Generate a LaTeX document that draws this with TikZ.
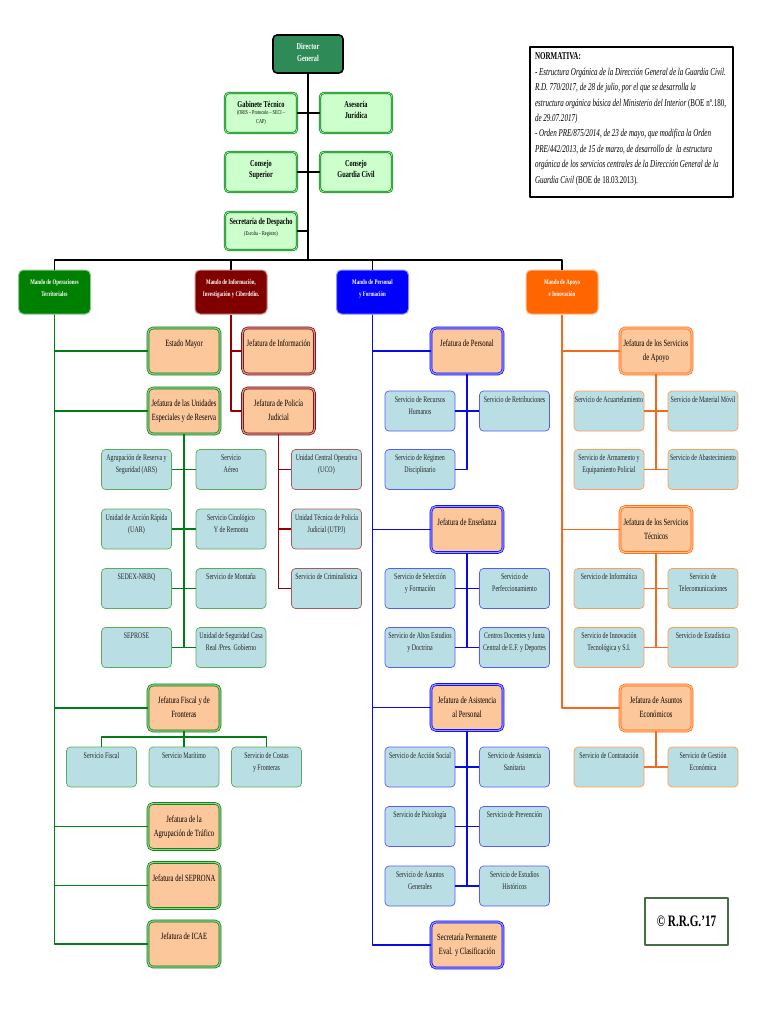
\documentclass[tikz,border=0pt]{standalone}
\usepackage{fontspec}
\setmainfont{Liberation Serif}[FakeStretch=0.7]
\newfontfamily\normfont{Liberation Serif}[FakeStretch=0.67]
\usepackage{xcolor}
\usetikzlibrary{calc}

\definecolor{dirgreen}{RGB}{46,139,87}
\definecolor{topfill}{RGB}{204,255,204}
\definecolor{topedge}{RGB}{20,120,40}
\definecolor{gcol}{RGB}{0,128,0}
\definecolor{rcol}{RGB}{128,0,0}
\definecolor{bcol}{RGB}{0,0,255}
\definecolor{ocol}{RGB}{255,102,0}
\definecolor{gline}{RGB}{0,125,20}
\definecolor{rline}{RGB}{150,0,0}
\definecolor{bline}{RGB}{10,10,230}
\definecolor{oline}{RGB}{245,105,30}
\definecolor{jefill}{RGB}{252,200,155}
\definecolor{svfill}{RGB}{185,223,228}
\definecolor{copyedge}{RGB}{70,110,70}

\newcommand{\svtxt}[1]{\parbox[c][40pt][t]{70pt}{\centering\fontsize{8.5}{12}\selectfont\rule{0pt}{11pt}#1\par}}
\newcommand{\jftxt}[1]{\parbox[c][46pt][t]{72pt}{\centering\fontsize{9.5}{14}\selectfont\rule{0pt}{18.5pt}#1\par}}
\newcommand{\mdtxt}[1]{\parbox[c][44pt][t]{72pt}{\centering\bfseries\fontsize{7}{12}\selectfont\rule{0pt}{14.5pt}#1\par}}
\newcommand{\tptxt}[2]{\parbox[c][#1][t]{72pt}{\centering\bfseries\fontsize{9}{11.5}\selectfont\rule{0pt}{14.5pt}#2\par}}

\begin{document}
\begin{tikzpicture}[x=1pt,y=-1pt,line join=round,
  dirbox/.style={draw=black,line width=1.6pt,fill=dirgreen,rounded corners=4pt,inner sep=0pt,text=white},
  topbox/.style={draw=topedge,double=topfill!60!green,double distance=0.9pt,line width=0.7pt,fill=topfill,rounded corners=4pt,inner sep=0pt},
  mando/.style={draw=#1!45,line width=1pt,fill=#1,rounded corners=5pt,inner sep=0pt,text=white},
  jefe/.style={draw=#1,double=#1!40,double distance=1.2pt,line width=0.7pt,fill=jefill,rounded corners=5pt,inner sep=0pt},
  serv/.style={draw=#1!65,line width=0.7pt,fill=svfill,rounded corners=4pt,inner sep=0pt,text=black!85},
  link/.style={draw=#1,line width=1.7pt},
  blk/.style={draw=black,line width=1.6pt}]
  \useasboundingbox (0,0) rectangle (768,1024);
  \coordinate (bus) at (308,260);
  % direccion
  \node[dirbox] (dir) at (308,54) {\parbox[c][38pt][t]{70pt}{\centering\bfseries\fontsize{9}{12}\selectfont\rule{0pt}{14.5pt}Director\\General\par}};
  \node[topbox] (gab) at (261,113) {\tptxt{40pt}{Gabinete Técnico\\[-2pt]{\mdseries\fontsize{6}{9}\selectfont (ORIS – Protocolo – SECI –\\[-2.5pt]CAP)}}};
  \node[topbox] (ase) at (356,113) {\tptxt{40pt}{Asesoría\\Jurídica}};
  \node[topbox] (cSup) at (261,172) {\tptxt{40pt}{Consejo\\Superior}};
  \node[topbox] (cGC) at (356,172) {\tptxt{40pt}{Consejo\\Guardia Civil}};
  \node[topbox] (secD) at (261,231) {\parbox[c][38pt][t]{72pt}{\centering\bfseries\fontsize{9}{11.5}\selectfont\rule{0pt}{12.5pt}Secretaría de Despacho\\[-1pt]{\mdseries\fontsize{6}{9}\selectfont (Escolta – Registro)}\par}};
  % mandos
  \node[mando=gcol] (mOT) at (54.5,292) {\mdtxt{Mando de Operaciones\\Territoriales}};
  \node[mando=rcol] (mII) at (231,292) {\mdtxt{Mando de Información,\\Investigación y Ciberdelin.}};
  \node[mando=bcol] (mPF) at (372.5,292) {\mdtxt{Mando de Personal\\y Formación}};
  \node[mando=ocol] (mAI) at (562,292) {\mdtxt{Mando de Apoyo\\e Innovación}};
  % operaciones
  \node[jefe=gcol] (jEM) at (184,351) {\jftxt{Estado Mayor}};
  \node[jefe=gcol] (jUE) at (184,411) {\jftxt{Jefatura de las Unidades\\Especiales y de Reserva}};
  \node[serv=gcol] (sARS) at (136.5,469.5) {\svtxt{Agrupación de Reserva y\\Seguridad (ARS)}};
  \node[serv=gcol] (sAer) at (231,469.5) {\svtxt{Servicio\\Aéreo}};
  \node[serv=gcol] (sUAR) at (136.5,529) {\svtxt{Unidad de Acción Rápida\\(UAR)}};
  \node[serv=gcol] (sCin) at (231,529) {\svtxt{Servicio Cinológico\\Y de Remonta}};
  \node[serv=gcol] (sSED) at (136.5,588.5) {\svtxt{SEDEX-NRBQ}};
  \node[serv=gcol] (sMon) at (231,588.5) {\svtxt{Servicio de Montaña}};
  \node[serv=gcol] (sSEP) at (136.5,647.5) {\svtxt{SEPROSE}};
  \node[serv=gcol] (sUSC) at (231,647.5) {\svtxt{Unidad de Seguridad Casa\\Real /Pres. Gobierno}};
  \node[jefe=gcol] (jFF) at (184,708) {\jftxt{Jefatura Fiscal y de\\Fronteras}};
  \node[serv=gcol] (sFis) at (101.5,767) {\svtxt{Servicio Fiscal}};
  \node[serv=gcol] (sMar) at (184,767) {\svtxt{Servicio Marítimo}};
  \node[serv=gcol] (sCos) at (266.5,767) {\svtxt{Servicio de Costas\\y Fronteras}};
  \node[jefe=gcol] (jAT) at (184,826.5) {\jftxt{Jefatura de la\\Agrupación de Tráfico}};
  \node[jefe=gcol] (jSEP) at (184,885.5) {\jftxt{Jefatura del SEPRONA}};
  \node[jefe=gcol] (jICA) at (184,944) {\jftxt{Jefatura de ICAE}};
  \coordinate (fbus) at (184,737);
  % informacion
  \node[jefe=rcol] (jInf) at (278.5,351) {\jftxt{Jefatura de Información}};
  \node[jefe=rcol] (jPJ) at (278.5,411) {\jftxt{Jefatura de Policía\\Judicial}};
  \node[serv=rcol] (sUCO) at (326.5,469.5) {\svtxt{Unidad Central Operativa\\(UCO)}};
  \node[serv=rcol] (sUTP) at (326.5,529) {\svtxt{Unidad Técnica de Policía\\Judicial (UTPJ)}};
  \node[serv=rcol] (sCri) at (326.5,588.5) {\svtxt{Servicio de Criminalística}};
  % personal
  \node[jefe=bcol] (jPer) at (467,351) {\jftxt{Jefatura de Personal}};
  \node[serv=bcol] (sRH) at (420,411) {\svtxt{Servicio de Recursos\\Humanos}};
  \node[serv=bcol] (sRet) at (514.5,411) {\svtxt{Servicio de Retribuciones}};
  \node[serv=bcol] (sRD) at (420,469.5) {\svtxt{Servicio de Régimen\\Disciplinario}};
  \node[jefe=bcol] (jEns) at (467,529.5) {\jftxt{Jefatura de Enseñanza}};
  \node[serv=bcol] (sSF) at (420,588.5) {\svtxt{Servicio de Selección\\y Formación}};
  \node[serv=bcol] (sPerf) at (514.5,588.5) {\svtxt{Servicio de\\Perfeccionamiento}};
  \node[serv=bcol] (sAED) at (420,647.5) {\svtxt{Servicio de Altos Estudios\\y Doctrina}};
  \node[serv=bcol] (sCD) at (514.5,647.5) {\svtxt{Centros Docentes y Junta\\Central de E.F. y Deportes}};
  \node[jefe=bcol] (jAsP) at (467,707.5) {\jftxt{Jefatura de Asistencia\\al Personal}};
  \node[serv=bcol] (sAS) at (420,767) {\svtxt{Servicio de Acción Social}};
  \node[serv=bcol] (sASan) at (514.5,767) {\svtxt{Servicio de Asistencia\\Sanitaria}};
  \node[serv=bcol] (sPsi) at (420,826.5) {\svtxt{Servicio de Psicología}};
  \node[serv=bcol] (sPrev) at (514.5,826.5) {\svtxt{Servicio de Prevención}};
  \node[serv=bcol] (sAG) at (420,886) {\svtxt{Servicio de Asuntos\\Generales}};
  \node[serv=bcol] (sEH) at (514.5,886) {\svtxt{Servicio de Estudios\\Históricos}};
  \node[jefe=bcol] (sPEC) at (467,945) {\jftxt{Secretaría Permanente\\Eval. y Clasificación}};
  % apoyo
  \node[jefe=ocol] (jSA) at (656,351) {\jftxt{Jefatura de los Servicios\\de Apoyo}};
  \node[serv=ocol] (sAcu) at (609,411) {\svtxt{Servicio de Acuartelamiento}};
  \node[serv=ocol] (sMM) at (703,411) {\svtxt{Servicio de Material Móvil}};
  \node[serv=ocol] (sArm) at (609,469.5) {\svtxt{Servicio de Armamento y\\Equipamiento Policial}};
  \node[serv=ocol] (sAba) at (703,469.5) {\svtxt{Servicio de Abastecimiento}};
  \node[jefe=ocol] (jST) at (656,529.5) {\jftxt{Jefatura de los Servicios\\Técnicos}};
  \node[serv=ocol] (sInf) at (609,588.5) {\svtxt{Servicio de Informática}};
  \node[serv=ocol] (sTel) at (703,588.5) {\svtxt{Servicio de\\Telecomunicaciones}};
  \node[serv=ocol] (sInn) at (609,647.5) {\svtxt{Servicio de Innovación\\Tecnológica y S.I.}};
  \node[serv=ocol] (sEst) at (703,647.5) {\svtxt{Servicio de Estadística}};
  \node[jefe=ocol] (jAE) at (656,708) {\jftxt{Jefatura de Asuntos\\Económicos}};
  \node[serv=ocol] (sCon) at (609,767) {\svtxt{Servicio de Contratación}};
  \node[serv=ocol] (sGE) at (703,767) {\svtxt{Servicio de Gestión\\Económica}};
  % normativa y firma
  \node[draw=black,line width=1.2pt,fill=white,inner xsep=5pt,inner ysep=0pt] (norma) at (631.5,122) {\parbox[c][150pt][t]{193pt}{\raggedright\normfont\fontsize{10.5}{15.4}\selectfont\rule{0pt}{13pt}\textbf{NORMATIVA:}\\
    \itshape - Estructura Orgánica de la Dirección General de la Guardia Civil.\\
    R.D. 770/2017, de 28 de julio, por el que se desarrolla la\\
    estructura orgánica básica del Ministerio del Interior {\upshape(BOE nº.180,}\\
    de 29.07.2017)\\
    - Orden PRE/875/2014, de 23 de mayo, que modifica la Orden\\
    PRE/442/2013, de 15 de marzo, de desarrollo de\ \ la estructura\\
    orgánica de los servicios centrales de la Dirección General de la\\
    Guardia Civil {\upshape(BOE de 18.03.2013)}.\par}};
  \node[draw=copyedge,line width=1.6pt,fill=white,minimum width=83pt,minimum height=47pt,inner sep=0pt,font=\bfseries\fontsize{16}{18}\selectfont] (rrg) at (686.5,921.5) {© R.R.G.'17};
  % lineas de mando
  \draw[blk] (dir) -- (bus);
  \draw[blk] (mOT.north) |- (bus) -| (mAI.north);
  \draw[blk] (mII.north) |- (bus);
  \draw[blk] (mPF.north) |- (bus);
  \draw[blk,line width=2.6pt] (gab) -- (ase);
  \draw[blk] (cSup) -- (cGC);
  \draw[blk] (secD.east) -- (secD.east -| dir.south);
  % operaciones
  \draw[link=gline] (mOT.south) |- (jEM.west);
  \draw[link=gline] (mOT.south) |- (jUE.west);
  \draw[link=gline] (mOT.south) |- (jFF.west);
  \draw[link=gline] (mOT.south) |- (jAT.west);
  \draw[link=gline] (mOT.south) |- (jSEP.west);
  \draw[link=gline] (mOT.south) |- (jICA.west);
  \draw[link=gline] (jUE.south) |- (sARS.east);
  \draw[link=gline] (jUE.south) |- (sAer.west);
  \draw[link=gline] (jUE.south) |- (sUAR.east);
  \draw[link=gline] (jUE.south) |- (sCin.west);
  \draw[link=gline] (jUE.south) |- (sSED.east);
  \draw[link=gline] (jUE.south) |- (sMon.west);
  \draw[link=gline] (jUE.south) |- (sSEP.east);
  \draw[link=gline] (jUE.south) |- (sUSC.west);
  \draw[link=gline] (jFF.south) -- (sMar.north);
  \draw[link=gline] (sFis.north) |- (fbus) -| (sCos.north);
  % informacion
  \draw[link=rline] (mII.south) |- (jInf.west);
  \draw[link=rline] (mII.south) |- (jPJ.west);
  \draw[link=rline] (jPJ.south) |- (sUCO.west);
  \draw[link=rline] (jPJ.south) |- (sUTP.west);
  \draw[link=rline] (jPJ.south) |- (sCri.west);
  % personal
  \draw[link=bline] (mPF.south) |- (jPer.west);
  \draw[link=bline] (mPF.south) |- (jEns.west);
  \draw[link=bline] (mPF.south) |- (jAsP.west);
  \draw[link=bline] (mPF.south) |- (sPEC.west);
  \draw[link=bline] (jPer.south) |- (sRH.east);
  \draw[link=bline] (jPer.south) |- (sRet.west);
  \draw[link=bline] (jPer.south) |- (sRD.east);
  \draw[link=bline] (jEns.south) |- (sSF.east);
  \draw[link=bline] (jEns.south) |- (sPerf.west);
  \draw[link=bline] (jEns.south) |- (sAED.east);
  \draw[link=bline] (jEns.south) |- (sCD.west);
  \draw[link=bline] (jAsP.south) |- (sAS.east);
  \draw[link=bline] (jAsP.south) |- (sASan.west);
  \draw[link=bline] (jAsP.south) |- (sPsi.east);
  \draw[link=bline] (jAsP.south) |- (sPrev.west);
  \draw[link=bline] (jAsP.south) |- (sAG.east);
  \draw[link=bline] (jAsP.south) |- (sEH.west);
  % apoyo
  \draw[link=oline] (mAI.south) |- (jSA.west);
  \draw[link=oline] (mAI.south) |- (jST.west);
  \draw[link=oline] (mAI.south) |- (jAE.west);
  \draw[link=oline] (jSA.south) |- (sAcu.east);
  \draw[link=oline] (jSA.south) |- (sMM.west);
  \draw[link=oline] (jSA.south) |- (sArm.east);
  \draw[link=oline] (jSA.south) |- (sAba.west);
  \draw[link=oline] (jST.south) |- (sInf.east);
  \draw[link=oline] (jST.south) |- (sTel.west);
  \draw[link=oline] (jST.south) |- (sInn.east);
  \draw[link=oline] (jST.south) |- (sEst.west);
  \draw[link=oline] (jAE.south) |- (sCon.east);
  \draw[link=oline] (jAE.south) |- (sGE.west);
\end{tikzpicture}
\end{document}
